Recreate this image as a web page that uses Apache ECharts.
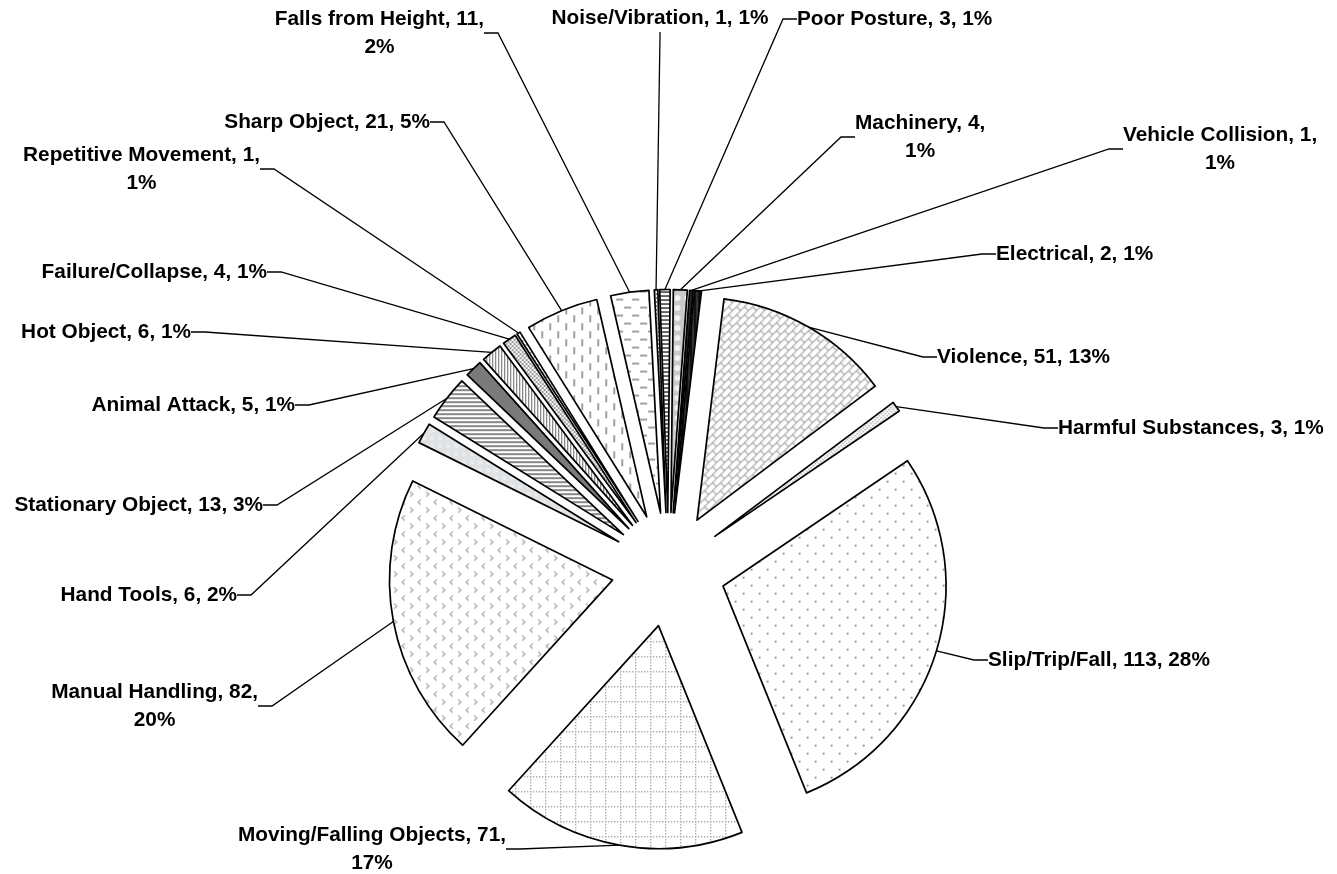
<!DOCTYPE html>
<html>
<head>
<meta charset="utf-8">
<script src="https://cdn.jsdelivr.net/npm/echarts@6/dist/echarts.min.js"></script>
<style>
html,body{margin:0;padding:0;background:#fff;}
#chart{width:1337px;height:874px;}
</style>
</head>
<body>
<div id="chart"></div>
<script>
// ---- data ----
const categories = ['Noise/Vibration','Poor Posture','Machinery','Vehicle Collision','Electrical','Violence','Harmful Substances','Slip/Trip/Fall','Moving/Falling Objects','Manual Handling','Hand Tools','Stationary Object','Animal Attack','Hot Object','Failure/Collapse','Repetitive Movement','Sharp Object','Falls from Height'];
const values = [1,3,4,1,2,51,3,113,71,82,6,13,5,6,4,1,21,11];
const percentLabels = ['1%','1%','1%','1%','1%','13%','1%','28%','17%','20%','2%','3%','1%','1%','1%','1%','5%','2%'];

// ---- layout / style (not data) ----
const wrappedLabels = [2,3,8,9,15,17];
// label anchor: [x, y(middle), side the leader line attaches to: l=left edge, r=right edge, c=bottom centre]
const labelAnchors = [
  [660,18,'c'],[797,19,'l'],[855,137,'l'],[1123,149,'l'],[996,254,'l'],[937,357,'l'],
  [1058,428,'l'],[988,660,'l'],[506,849,'r'],[258,706,'r'],[237,595,'r'],[263,505,'r'],
  [295,405,'r'],[191,332,'r'],[267,272,'r'],[260,169,'r'],[430,122,'r'],[484,33,'r']
];
const leaderStub = 14;
const PIE_CENTER = [668.5, 569.5];
const PIE_RADIUS = 223;
const EXPLODE = 57;

function tile(w, h, bg, draw) {
  const c = document.createElement('canvas');
  c.width = w; c.height = h;
  const g = c.getContext('2d');
  g.fillStyle = bg; g.fillRect(0, 0, w, h);
  if (draw) draw(g);
  return { image: c, repeat: 'repeat' };
}
const patterns = [
  // Noise/Vibration
  tile(4,4,'#fff',g=>{g.fillStyle='#777';g.fillRect(0,0,2,2);g.fillRect(2,2,2,2);}),
  // Poor Posture - dark horizontal
  tile(4,4,'#fff',g=>{g.fillStyle='#666';g.fillRect(0,0,4,2);}),
  // Machinery - light gray spheres
  tile(10,10,'#c9c9c9',g=>{g.fillStyle='#f2f2f2';g.beginPath();g.arc(5,5,3,0,Math.PI*2);g.fill();}),
  // Vehicle Collision
  tile(4,4,'#222',g=>{g.fillStyle='#555';g.fillRect(0,0,1,1);}),
  // Electrical
  tile(4,4,'#333',g=>{g.fillStyle='#111';g.fillRect(0,0,2,4);}),
  // Violence - diagonal brick
  tile(16,16,'#fff',g=>{
    g.strokeStyle='#a8a8a8';g.lineWidth=1.2;g.beginPath();
    g.moveTo(0,8);g.lineTo(8,0);g.moveTo(0,16);g.lineTo(16,0);g.moveTo(8,16);g.lineTo(16,8);
    g.moveTo(4,4);g.lineTo(8,8);g.moveTo(12,12);g.lineTo(16,16);
    g.moveTo(12,4);g.lineTo(16,8);g.moveTo(4,12);g.lineTo(8,16);
    g.stroke();
  }),
  // Harmful Substances - fine dots
  tile(4,4,'#fff',g=>{g.fillStyle='#aaa';g.fillRect(0,0,1.5,1.5);g.fillRect(2,2,1.5,1.5);}),
  // Slip/Trip/Fall - sparse dots
  tile(16,16,'#fff',g=>{g.fillStyle='#999';g.fillRect(0,0,2,2);g.fillRect(8,8,2,2);}),
  // Moving/Falling Objects - dotted grid
  tile(15,15,'#fff',g=>{g.fillStyle='#9c9c9c';for(let i=0;i<15;i+=3){g.fillRect(i,0,1.3,1.3);g.fillRect(0,i,1.3,1.3);}}),
  // Manual Handling - divots
  tile(16,16,'#fff',g=>{
    g.strokeStyle='#aaa';g.lineWidth=1.2;g.beginPath();
    g.moveTo(2,1);g.lineTo(5,3.5);g.lineTo(2,6);
    g.moveTo(13,9);g.lineTo(10,11.5);g.lineTo(13,14);
    g.stroke();
  }),
  // Hand Tools - light marble
  tile(8,8,'#dfe2e4',g=>{g.fillStyle='#e9ebec';g.fillRect(0,0,4,4);}),
  // Stationary Object - wide horizontal
  tile(4,4,'#fff',g=>{g.fillStyle='#888';g.fillRect(0,0,4,2);}),
  // Animal Attack - dark gray
  tile(4,4,'#7a7a7a'),
  // Hot Object - vertical lines
  tile(3,3,'#fff',g=>{g.fillStyle='#8a8a8a';g.fillRect(0,0,1.3,3);}),
  // Failure/Collapse - small checker
  tile(4,4,'#fff',g=>{g.fillStyle='#999';g.fillRect(0,0,2,2);g.fillRect(2,2,2,2);}),
  // Repetitive Movement
  tile(4,4,'#fff',g=>{g.fillStyle='#999';g.fillRect(0,0,2,2);}),
  // Sharp Object - dashed vertical
  tile(16,16,'#fff',g=>{g.fillStyle='#a0a0a0';g.fillRect(3,0,2,7);g.fillRect(11,8,2,7);}),
  // Falls from Height - dashed horizontal
  tile(16,16,'#fff',g=>{g.fillStyle='#a0a0a0';g.fillRect(0,3,7,2);g.fillRect(8,11,7,2);})
];

const sliceData = categories.map((name, i) => ({
  name: name, value: values[i], selected: true, itemStyle: { color: patterns[i] }
}));
// label carrier: same slices, unexploded, outer arc at the exploded slices' arc midpoints
const labelData = categories.map((name, i) => ({ name: name, value: values[i] }));

const chart = echarts.init(document.getElementById('chart'), null, { renderer: 'canvas' });
chart.setOption({
  backgroundColor: '#fff',
  animation: false,
  series: [{
    type: 'pie',
    center: PIE_CENTER,
    radius: PIE_RADIUS,
    startAngle: 93,
    clockwise: true,
    selectedMode: 'multiple',
    selectedOffset: EXPLODE,
    silent: true,
    emphasis: { disabled: true },
    itemStyle: { borderColor: '#000', borderWidth: 1.7 },
    select: { itemStyle: { borderColor: '#000', borderWidth: 1.7 } },
    label: { show: false },
    labelLine: { show: false },
    data: sliceData
  }, {
    type: 'pie',
    center: PIE_CENTER,
    radius: PIE_RADIUS + EXPLODE,
    startAngle: 93,
    clockwise: true,
    silent: true,
    avoidLabelOverlap: false,
    minShowLabelAngle: 0,
    emphasis: { disabled: true },
    itemStyle: { color: 'rgba(0,0,0,0)', borderWidth: 0 },
    label: {
      show: true,
      position: 'outside',
      color: '#000',
      fontFamily: 'Liberation Sans, Arial, sans-serif',
      fontWeight: 'bold',
      fontSize: 20.8,
      lineHeight: 28,
      align: 'center',
      formatter: function (p) {
        const i = p.dataIndex;
        const sep = wrappedLabels.indexOf(i) >= 0 ? ',\n' : ', ';
        return categories[i] + ', ' + values[i] + sep + percentLabels[i];
      }
    },
    labelLine: {
      show: true, length: 10, length2: 14, smooth: false,
      lineStyle: { color: '#000', width: 1.3 }
    },
    labelLayout: function (p) {
      const a = labelAnchors[p.dataIndex];
      const w = p.labelRect.width, h = p.labelRect.height;
      let x = a[0], edge, bend;
      if (a[2] === 'l') { x = a[0] + w / 2; edge = [a[0], a[1]]; bend = [a[0] - leaderStub, a[1]]; }
      else if (a[2] === 'r') { x = a[0] - w / 2; edge = [a[0], a[1]]; bend = [a[0] + leaderStub, a[1]]; }
      else { edge = [a[0], a[1] + h / 2]; bend = [a[0], a[1] + h / 2 + 4]; }
      const res = { x: x, y: a[1], align: 'center', verticalAlign: 'middle' };
      if (p.labelLinePoints && p.labelLinePoints.length) {
        res.labelLinePoints = [p.labelLinePoints[0].slice(), bend, edge];
      }
      return res;
    },
    data: labelData
  }]
});
</script>
</body>
</html>
